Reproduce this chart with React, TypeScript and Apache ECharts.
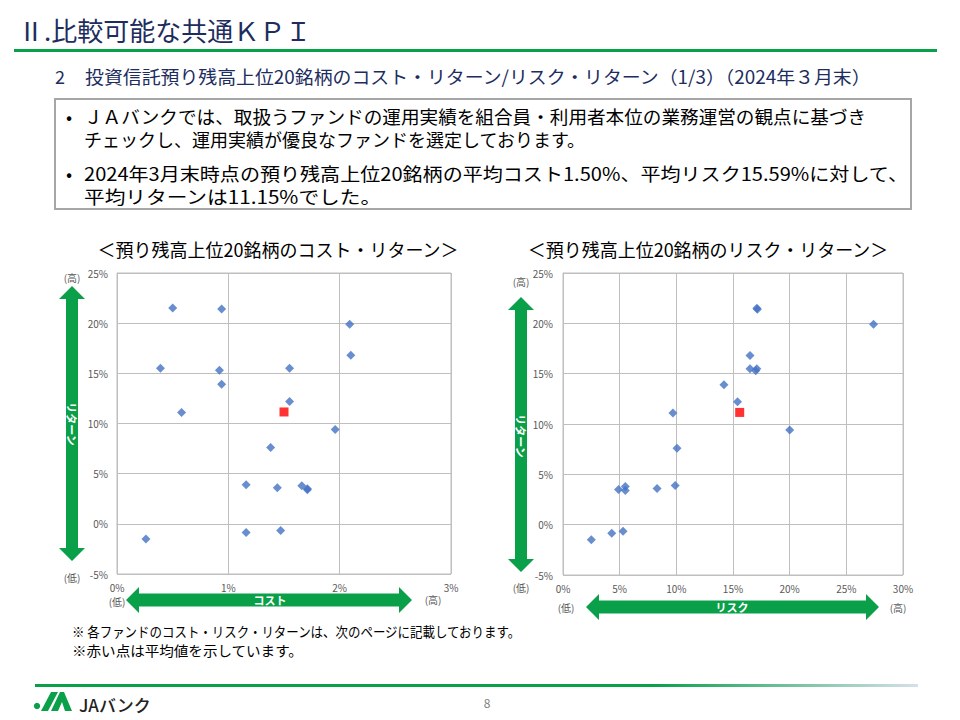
import React, { useEffect, useRef } from "react";
import * as echarts from "echarts";

// ---- data (percent) ----
const fundReturn = [21.5, 21.4, 19.9, 16.8, 15.5, 15.5, 15.3, 13.9, 12.2, 11.1, 9.4, 7.6, 3.9, 3.8, 3.6, 3.5, 3.4, -0.66, -0.86, -1.5];
const fundCost = [0.5, 0.94, 2.09, 2.1, 0.39, 1.55, 0.92, 0.94, 1.55, 0.58, 1.96, 1.38, 1.16, 1.66, 1.44, 1.71, 1.71, 1.47, 1.16, 0.26];
const fundRisk = [17.1, 17.15, 27.4, 16.5, 16.5, 17.1, 17.0, 14.2, 15.4, 9.7, 20.0, 10.06, 9.9, 5.5, 8.3, 4.9, 5.5, 5.3, 4.3, 2.5];
const avgCost = 1.5;
const avgRisk = 15.59;
const avgReturn = 11.15;
const costTicks = [0, 3, 1];
const riskTicks = [0, 30, 5];
const returnTicks = [-5, 25, 5];

const FONT = '"Noto Sans CJK JP", "Noto Sans", sans-serif';
const GREEN = "#0aa04a";
const NAVY = "#1c2d5e";

function vArrow(cx: number, top: number, bottom: number) {
  const sw = 6, hw = 13, hl = 13;
  return {
    type: "polygon",
    shape: {
      points: [
        [cx - sw, top + hl], [cx - hw, top + hl], [cx, top], [cx + hw, top + hl], [cx + sw, top + hl],
        [cx + sw, bottom - hl], [cx + hw, bottom - hl], [cx, bottom], [cx - hw, bottom - hl], [cx - sw, bottom - hl],
      ],
    },
    style: { fill: GREEN },
  };
}
function hArrow(left: number, right: number, cy: number) {
  const sh = 6.5, hh = 13, hl = 13;
  return {
    type: "polygon",
    shape: {
      points: [
        [left + hl, cy - sh], [left + hl, cy - hh], [left, cy], [left + hl, cy + hh], [left + hl, cy + sh],
        [right - hl, cy + sh], [right - hl, cy + hh], [right, cy], [right - hl, cy - hh], [right - hl, cy - sh],
      ],
    },
    style: { fill: GREEN },
  };
}
function txt(x: number, y: number, text: string, size: number, fill: string, extra: any = {}, styleExtra: any = {}) {
  return {
    type: "text",
    x,
    y,
    ...extra,
    style: {
      text,
      fill,
      fontSize: size,
      fontFamily: FONT,
      fontWeight: "normal",
      textAlign: "left",
      textVerticalAlign: "middle",
      ...styleExtra,
    },
  };
}

export default function App() {
  const ref = useRef<HTMLDivElement>(null);
  useEffect(() => {
    if (!ref.current) return;
    const chart = echarts.init(ref.current, null, { renderer: "svg" });
    const label = (margin: number) => ({ color: "#595959", fontSize: 10, fontFamily: FONT, margin, formatter: (v: number) => `${v}%` });
    const axisCommon = (min: number, max: number, interval: number, margin: number) => ({
      type: "value",
      min,
      max,
      interval,
      axisLine: { show: true, lineStyle: { color: "#bfbfbf" } },
      axisTick: { show: false },
      splitLine: { show: true, lineStyle: { color: "#bfbfbf", width: 1 } },
      axisLabel: label(margin),
    });
    const graphic: any[] = [
      txt(18, 29, "Ⅱ.比較可能な共通ＫＰＩ", 26, NAVY),
      { type: "rect", shape: { x: 14, y: 49, width: 923, height: 3 }, style: { fill: GREEN } },
      txt(55, 76, "2", 18, NAVY),
      txt(85, 76, "投資信託預り残高上位20銘柄のコスト・リターン/リスク・リターン（1/3）（2024年３月末）", 18, NAVY, { scaleX: 1.05 }),
      { type: "rect", shape: { x: 55, y: 99, width: 856, height: 110 }, style: { fill: "#fff", stroke: "#a6a6a6", lineWidth: 2 } },
      txt(66, 116, "•", 18, "#000"),
      txt(84, 116, "ＪＡバンクでは、取扱うファンドの運用実績を組合員・利用者本位の業務運営の観点に基づき", 18, "#000", { scaleX: 1.035 }),
      txt(84, 139, "チェックし、運用実績が優良なファンドを選定しております。", 18, "#000", { scaleX: 1.0 }),
      txt(66, 173, "•", 18, "#000"),
      txt(84, 173, "2024年3月末時点の預り残高上位20銘柄の平均コスト1.50%、平均リスク15.59%に対して、", 18, "#000", { scaleX: 1.115 }),
      txt(84, 197, "平均リターンは11.15%でした。", 18, "#000", { scaleX: 1.15 }),
      txt(278, 249, "＜預り残高上位20銘柄のコスト・リターン＞", 18, "#000", {}, { textAlign: "center" }),
      txt(708, 249, "＜預り残高上位20銘柄のリスク・リターン＞", 18, "#000", {}, { textAlign: "center" }),
      // left chart arrows
      vArrow(72, 286, 561),
      txt(72, 277, "(高)", 10, "#595959", {}, { textAlign: "center" }),
      txt(72, 577, "(低)", 10, "#595959", {}, { textAlign: "center" }),
      txt(72, 424, "リターン", 11, "#fff", { rotation: -Math.PI / 2 }, { textAlign: "center", fontWeight: "bold" }),
      hArrow(126, 412, 600),
      txt(117, 601, "(低)", 10, "#595959", {}, { textAlign: "center" }),
      txt(433, 599, "(高)", 10, "#595959", {}, { textAlign: "center" }),
      txt(270, 600, "コスト", 11, "#fff", {}, { textAlign: "center", fontWeight: "bold" }),
      // right chart arrows
      vArrow(521, 297, 572),
      txt(521, 281, "(高)", 10, "#595959", {}, { textAlign: "center" }),
      txt(521, 587, "(低)", 10, "#595959", {}, { textAlign: "center" }),
      txt(521, 436, "リターン", 11, "#fff", { rotation: -Math.PI / 2 }, { textAlign: "center", fontWeight: "bold" }),
      hArrow(586, 879, 607),
      txt(566, 607, "(低)", 10, "#595959", {}, { textAlign: "center" }),
      txt(898, 607, "(高)", 10, "#595959", {}, { textAlign: "center" }),
      txt(732, 607, "リスク", 11, "#fff", {}, { textAlign: "center", fontWeight: "bold" }),
      // notes
      txt(72, 631, "※ 各ファンドのコスト・リスク・リターンは、次のページに記載しております。", 14, "#000", { scaleX: 0.89 }),
      txt(72, 650, "※赤い点は平均値を示しています。", 14, "#000", { scaleX: 1.04 }),
      // footer
      {
        type: "rect",
        shape: { x: 35, y: 684, width: 883, height: 3 },
        style: {
          fill: new echarts.graphic.LinearGradient(0, 0, 1, 0, [
            { offset: 0, color: GREEN },
            { offset: 0.7, color: GREEN },
            { offset: 1, color: "#d6e0ea" },
          ]),
        },
      },
      { type: "circle", shape: { cx: 37, cy: 706, r: 3.2 }, style: { fill: GREEN } },
      { type: "polygon", shape: { points: [[41, 711], [48, 711], [58, 692], [51, 692]] }, style: { fill: GREEN } },
      { type: "polygon", shape: { points: [[51, 711], [58, 711], [62, 702], [65, 711], [72, 711], [64, 692], [60, 692]] }, style: { fill: GREEN } },
      txt(79, 704, "JAバンク", 17, "#222", {}, { fontWeight: 500 }),
      txt(487, 702, "8", 12, "#808080", {}, { textAlign: "center" }),
    ];

    chart.setOption({
      animation: false,
      backgroundColor: "#fff",
      textStyle: { fontFamily: FONT },
      graphic,
      grid: [
        { left: 117, top: 273, width: 334, height: 301, show: true, borderColor: "#bfbfbf", borderWidth: 1, containLabel: false },
        { left: 563, top: 273, width: 340, height: 302, show: true, borderColor: "#bfbfbf", borderWidth: 1, containLabel: false },
      ],
      xAxis: [
        { ...axisCommon(costTicks[0], costTicks[1], costTicks[2], 8), gridIndex: 0 },
        { ...axisCommon(riskTicks[0], riskTicks[1], riskTicks[2], 8), gridIndex: 1 },
      ],
      yAxis: [
        { ...axisCommon(returnTicks[0], returnTicks[1], returnTicks[2], 9), gridIndex: 0 },
        { ...axisCommon(returnTicks[0], returnTicks[1], returnTicks[2], 10), gridIndex: 1 },
      ],
      series: [
        {
          type: "scatter",
          xAxisIndex: 0,
          yAxisIndex: 0,
          symbol: "diamond",
          symbolSize: 9,
          itemStyle: { color: "#4472c4" },
          data: fundCost.map((c, i) => [c, fundReturn[i]]),
        },
        {
          type: "scatter",
          xAxisIndex: 0,
          yAxisIndex: 0,
          symbol: "rect",
          symbolSize: 9,
          itemStyle: { color: "#ff0000" },
          data: [[avgCost, avgReturn]],
        },
        {
          type: "scatter",
          xAxisIndex: 1,
          yAxisIndex: 1,
          symbol: "diamond",
          symbolSize: 9,
          itemStyle: { color: "#4472c4" },
          data: fundRisk.map((r, i) => [r, fundReturn[i]]),
        },
        {
          type: "scatter",
          xAxisIndex: 1,
          yAxisIndex: 1,
          symbol: "rect",
          symbolSize: 9,
          itemStyle: { color: "#ff0000" },
          data: [[avgRisk, avgReturn]],
        },
      ],
    });
    return () => chart.dispose();
  }, []);
  return <div ref={ref} style={{ position: "absolute", left: 0, top: 0, width: 960, height: 720 }} />;
}
